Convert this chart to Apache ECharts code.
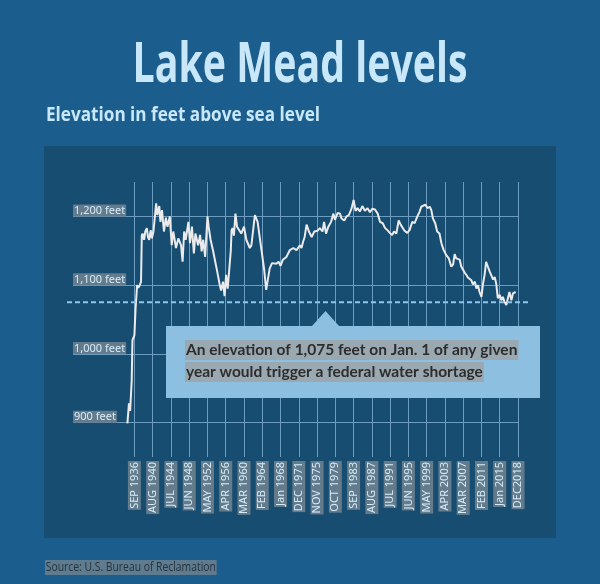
<!DOCTYPE html>
<html><head><meta charset="utf-8">
<script src="https://cdn.jsdelivr.net/npm/echarts@6/dist/echarts.min.js"></script>
<style>html,body{margin:0;padding:0;background:#1b5e8e}#c{width:600px;height:584px}</style>
</head><body><div id="c"></div>
<script>
// ---- data ----
const titleText = 'Lake Mead levels';
const subtitleText = 'Elevation in feet above sea level';
const sourceText = 'Source: U.S. Bureau of Reclamation';
const noteLines = ['An elevation of 1,075 feet on Jan. 1 of any given', 'year would trigger a federal water shortage'];
const shortageLevel = 1075;

const firstMonth = '1923-07';
const lastMonth = '2018-12';
const firstTickMonth = '1936-09';
const tickStep = 47;
const tickLabels = ['SEP 1936','AUG 1940','JUL 1944','JUN 1948','MAY 1952','APR 1956','MAR 1960','FEB 1964','Jan 1968','DEC 1971','NOV 1975','OCT 1979','SEP 1983','AUG 1987','JUL 1991','JUN 1995','MAY 1999','APR 2003','MAR 2007','FEB 2011','Jan 2015','DEC2018'];
const yLabelValues = [900, 1000, 1100, 1200];

const dates = ['1935-03','1935-07','1935-10','1936-02','1936-04','1936-09','1936-12','1937-04','1937-07','1937-11',
'1938-02','1938-04','1938-06','1938-10','1939-01','1939-05','1939-08','1939-11','1940-03','1940-06',
'1940-10','1941-01','1941-05','1941-08','1942-01','1942-04','1942-08','1943-01','1943-06','1943-10',
'1944-04','1944-09','1945-01','1945-08','1946-02','1946-09','1947-01','1947-05','1947-09','1948-04',
'1948-08','1949-01','1949-06','1949-10','1950-05','1950-10','1951-02','1951-06','1951-11','1952-05',
'1952-08','1953-01','1953-07','1954-01','1954-06','1954-12','1955-04','1955-09','1956-01','1956-05',
'1956-09','1957-01','1957-05','1957-07','1957-10','1958-01','1958-05','1958-09','1959-02','1959-08',
'1960-03','1960-09','1961-06','1961-10','1962-07','1963-02','1963-12','1964-07','1964-12','1965-05',
'1965-09','1966-03','1966-08','1967-02','1967-08','1968-01','1968-07','1969-04','1970-01','1970-10',
'1971-06','1972-03','1972-07','1972-11','1973-03','1973-08','1974-02','1974-09','1975-04','1975-12',
'1976-06','1977-01','1977-05','1977-10','1978-04','1978-11','1979-05','1979-09','1980-04','1980-10',
'1981-02','1981-09','1982-03','1982-09','1983-04','1983-09','1984-02','1984-07','1985-01','1985-08',
'1986-02','1986-09','1987-03','1987-09','1988-04','1988-11','1989-05','1989-12','1990-06','1990-12',
'1991-06','1991-12','1992-05','1992-11','1993-05','1993-10','1994-02','1994-08','1995-03','1995-09',
'1996-04','1996-10','1997-05','1997-11','1998-03','1998-08','1999-02','1999-07','2000-01','2000-05',
'2000-09','2001-03','2001-08','2002-02','2002-07','2002-12','2003-07','2004-02','2004-08','2005-01',
'2005-05','2005-09','2006-02','2006-06','2006-10','2007-03','2007-07','2007-11','2008-03','2008-08',
'2008-12','2009-04','2009-09','2010-01','2010-05','2010-09','2011-02','2011-06','2011-10','2012-02',
'2012-07','2012-11','2013-03','2013-08','2013-12','2014-04','2014-08','2015-01','2015-05','2015-09',
'2016-01','2016-06','2016-10','2017-02','2017-07','2017-11','2018-03','2018-06'];

const levels = [899,928,917,961,1020,1027,1066,1100,1096,1100,
1105,1172,1175,1166,1178,1183,1170,1166,1180,1168,
1178,1176,1219,1202,1215,1192,1209,1178,1198,1185,
1200,1158,1178,1154,1168,1158,1134,1178,1166,1192,
1161,1185,1146,1175,1158,1173,1149,1166,1141,1200,
1185,1166,1151,1134,1120,1102,1092,1105,1084,1115,
1095,1093,1150,1180,1183,1172,1204,1185,1183,1175,
1185,1166,1154,1158,1202,1192,1151,1122,1093,1092,
1124,1132,1134,1131,1134,1128,1137,1141,1151,1154,
1151,1158,1154,1163,1170,1188,1178,1170,1178,1179,
1183,1178,1192,1175,1185,1192,1204,1195,1205,1204,
1197,1194,1200,1202,1212,1224,1208,1212,1207,1215,
1208,1212,1206,1211,1210,1204,1192,1190,1183,1180,
1176,1173,1178,1175,1194,1188,1190,1179,1176,1180,
1192,1190,1200,1207,1214,1213,1217,1212,1214,1209,
1197,1190,1178,1175,1161,1152,1144,1139,1127,1130,
1145,1139,1141,1137,1127,1129,1118,1115,1111,1112,
1107,1101,1105,1095,1100,1090,1083,1102,1115,1134,
1126,1120,1122,1108,1112,1102,1081,1086,1078,1083,
1076,1071,1081,1090,1078,1088,1089,1090];

// ---- build axis categories (monthly) ----
const categories = [];
(function () {
  let [y, m] = firstMonth.split('-').map(Number);
  while (true) {
    const s = y + '-' + String(m).padStart(2, '0');
    categories.push(s);
    if (s === lastMonth) break;
    m++; if (m > 12) { m = 1; y++; }
  }
})();
const tickStart = categories.indexOf(firstTickMonth);
const tickMap = {};
tickLabels.forEach((t, k) => { tickMap[categories[tickStart + k * tickStep]] = t; });
const isTick = i => i >= tickStart && (i - tickStart) % tickStep === 0;
const seriesData = dates.map((d, i) => [d, levels[i]]);

const fmtNum = v => String(v).replace(/\B(?=(\d{3})+(?!\d))/g, ',');
const mctx = document.createElement('canvas').getContext('2d');
function textW(font, s) { mctx.font = font; return mctx.measureText(s).width; }

const headFont = "'Open Sans', sans-serif";
const titleFont = 'bold 56px ' + headFont;
const subFont = 'bold 20px ' + headFont;
const srcFont = '12.5px ' + headFont;
const titleScale = 335 / textW(titleFont, titleText);
const subScale = 274 / textW(subFont, subtitleText);
const srcScale = 170 / textW(srcFont, sourceText);
const gridColor = '#6e9bc0';
const lblBg = '#647b8c';

const chart = echarts.init(document.getElementById('c'), null, {renderer: 'canvas'});
chart.setOption({
  backgroundColor: '#1b5e8e',
  animation: false,
  grid: {left: 73, right: 82, top: 182, bottom: 127, containLabel: false},
  xAxis: {
    type: 'category', data: categories, boundaryGap: false,
    axisLine: {show: false}, axisTick: {show: false},
    axisLabel: {
      interval: (i) => isTick(i), rotate: 90, margin: 4,
      formatter: v => tickMap[v] || '',
      color: '#d3ecfa', backgroundColor: lblBg, padding: [1, 1, 1, 1],
      fontFamily: 'Noto Sans', fontSize: 11
    },
    splitLine: {show: true, interval: (i) => isTick(i), lineStyle: {color: gridColor, width: 1}}
  },
  yAxis: {
    type: 'value', min: 850, max: 1250, interval: 50,
    axisLine: {show: false}, axisTick: {show: false},
    axisLabel: {
      inside: true, margin: 0, verticalAlign: 'bottom', align: 'left',
      formatter: v => yLabelValues.indexOf(v) >= 0 ? '{b|' + fmtNum(v) + ' feet}' : '',
      rich: {b: {color: '#d3ecfa', backgroundColor: lblBg, padding: [1, 1, 0, 1],
                 fontFamily: 'Noto Sans', fontSize: 11}}
    },
    splitLine: {show: true, lineStyle: {color: ['rgba(0,0,0,0)', gridColor], width: 1}}
  },
  series: [{
    type: 'line', data: seriesData, showSymbol: false, symbol: 'none',
    lineStyle: {color: '#ebebeb', width: 2}, z: 5
  }]
});

const yShort = chart.convertToPixel({yAxisIndex: 0}, shortageLevel);
chart.setOption({
  graphic: [
    {type: 'rect', z: -10, silent: true, shape: {x: 44, y: 146, width: 512, height: 392}, style: {fill: '#184d72'}},
    {type: 'text', z: 30, silent: true, x: 300, y: 66, scaleX: titleScale,
     style: {text: titleText, fill: '#c8e8fa', font: titleFont, align: 'center', verticalAlign: 'middle'}},
    {type: 'text', z: 30, silent: true, x: 46, y: 115, scaleX: subScale,
     style: {text: subtitleText, fill: '#c8e8fa', font: subFont, align: 'left', verticalAlign: 'middle'}},
    {type: 'line', z: 10, silent: true, shape: {x1: 67, y1: yShort, x2: 528, y2: yShort},
     style: {stroke: '#8ec5ea', lineWidth: 2, lineDash: [5, 3]}},
    {type: 'polygon', z: 20, silent: true,
     shape: {points: [[166, 326], [312, 326], [325.5, 311], [339, 326], [540, 326], [540, 398], [166, 398]]},
     style: {fill: '#8cbfe0'}},
    {type: 'text', z: 21, silent: true, x: 185, y: 340,
     style: {text: noteLines[0], fill: '#2d2d2d', font: "bold 15.5px Lato", backgroundColor: '#9aa8b2', padding: [2, 1, 2, 1]}},
    {type: 'text', z: 21, silent: true, x: 185, y: 362,
     style: {text: noteLines[1], fill: '#2d2d2d', font: "bold 15.5px Lato", backgroundColor: '#9aa8b2', padding: [2, 1, 2, 1]}},
    {type: 'text', z: 21, silent: true, x: 45, y: 560, scaleX: srcScale,
     style: {text: sourceText, fill: '#26323b', font: srcFont, backgroundColor: '#5f7b90', padding: [1, 1, 1, 1]}}
  ]
});
</script>
</body></html>
